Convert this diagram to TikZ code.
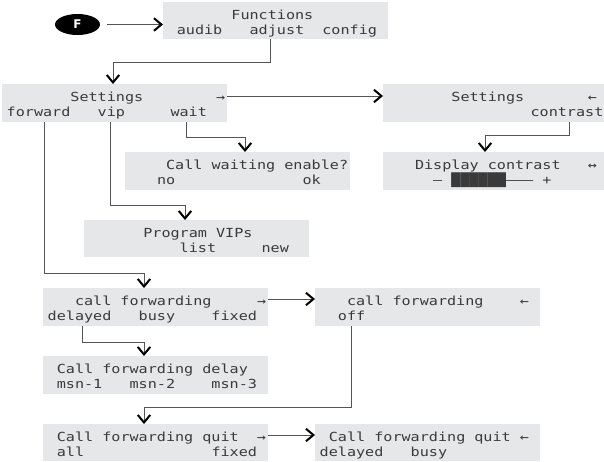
\documentclass[tikz,border=0pt]{standalone}
\usepackage{fontspec}
\usetikzlibrary{arrows.meta,calc,shapes.geometric}
\newfontfamily\lcdfont[FakeStretch=1.21]{DejaVu Sans Mono}
\newfontfamily\ffont{DejaVu Sans}
\definecolor{lcdbg}{HTML}{E6E7E8}
\definecolor{lcdtext}{HTML}{3A3A3A}
\definecolor{conngray}{HTML}{555555}
\newlength\cw \setlength\cw{9.1pt}
\newcommand\cc[2]{\makebox[0pt][l]{\hspace*{#1\cw}#2}}
\newcommand\lcdline[1]{\hbox to 24\cw{#1\hss}}
\tikzset{
  panel/.style={fill=lcdbg, draw=none, rectangle, minimum width=225pt, inner sep=0pt, anchor=north west},
  lcdtxt/.style={anchor=base west, inner sep=0pt, text=lcdtext, font=\lcdfont\fontsize{12.5pt}{12.5pt}\selectfont},
  conn/.style={draw=conngray, line width=0.9pt, -{Straight Barb[color=black, line width=2pt, length=7.5pt, width=12.5pt]}},
  fmark/.style={ellipse, fill=black, minimum width=45pt, minimum height=21pt, inner sep=0pt, text=white, font=\ffont\bfseries\fontsize{12pt}{12pt}\selectfont}
}
\newcommand\lcdbox[6]{%
  \node[panel, minimum height=#4pt] (#1) at (#2,#3) {};
  \node[lcdtxt] (#1-a) at ($(#1.north west)+(4.5,17)$) {\lcdline{#5}};
  \node[lcdtxt] (#1-b) at ($(#1.north west)+(4.5,32)$) {\lcdline{#6}};
}
\begin{document}
\begin{tikzpicture}[x=1pt,y=-1pt]
\useasboundingbox (0,0) rectangle (604,461);
\node[fmark] (F) at (77.5,24.5) {F};
\lcdbox{fun}{163}{2}{37}{\cc{7}{Functions}}{\cc{1}{audib}\cc{9}{adjust}\cc{17}{config}}
\lcdbox{setL}{2}{84}{38}{\cc{7}{Settings}\cc{23}{→}}{\cc{0}{forward}\cc{10}{vip}\cc{18}{wait}}
\lcdbox{setR}{383}{84}{38}{\cc{7}{Settings}\cc{22}{←}}{\cc{15.7}{contrast}}
\lcdbox{cwait}{125}{152}{38}{\cc{4}{Call}\cc{9}{waiting}\cc{17}{enable?}}{\cc{3}{no}\cc{19}{ok}}
\lcdbox{disp}{383}{152}{38}{\cc{3}{Display}\cc{11}{contrast}\cc{22}{↔}}{\cc{5}{–}\cc{7}{██████}\cc{13}{–}\cc{14}{–}\cc{15}{–}\cc{17}{+}}
\lcdbox{vip}{84}{220}{37}{\cc{6}{Program}\cc{14}{VIPs}}{\cc{10}{list}\cc{19}{new}}
\lcdbox{cfL}{43}{288}{38}{\cc{3}{call}\cc{8}{forwarding}\cc{23}{→}}{\cc{0}{delayed}\cc{10}{busy}\cc{18}{fixed}}
\lcdbox{cfR}{315}{288}{38}{\cc{3}{call}\cc{8}{forwarding}\cc{22}{←}}{\cc{2}{off}}
\lcdbox{cfd}{43}{356}{38}{\cc{1}{Call}\cc{6}{forwarding}\cc{17}{delay}}{\cc{1}{msn-1}\cc{9}{msn-2}\cc{18}{msn-3}}
\lcdbox{cqL}{43}{424}{37}{\cc{1}{Call}\cc{6}{forwarding}\cc{17}{quit}\cc{23}{→}}{\cc{1}{all}\cc{18}{fixed}}
\lcdbox{cqR}{315}{424}{37}{\cc{1}{Call}\cc{6}{forwarding}\cc{17}{quit}\cc{22}{←}}{\cc{0}{delayed}\cc{10}{busy}}
% connectors
\draw[conn, shorten <=7pt] (F.east) -- (F.east -| fun.west);
\draw[conn] ($(fun.south west)+(107,0)$) -- ++(0,23) -| ($(setL.north west)+(111,0)$);
\draw[conn] ($(setL.north east)+(0,12)$) -- ($(setR.north west)+(0,12)$);
\draw[conn] ($(setR.south west)+(186,0)$) -- ++(0,13) -| ($(disp.north west)+(102,0)$);
\draw[conn] ($(setL.south west)+(184,0)$) -- ++(0,15) -| ($(cwait.north west)+(120,0)$);
\draw[conn] ($(setL.south west)+(108,0)$) -- ++(0,83) -| ($(vip.north west)+(101,0)$);
\draw[conn] ($(setL.south west)+(42,0)$) -- ++(0,151) -| ($(cfL.north west)+(101,0)$);
\draw[conn] ($(cfL.north east)+(0,11)$) -- ($(cfR.north west)+(0,11)$);
\draw[conn] ($(cfL.south west)+(39,0)$) -- ++(0,16) -| ($(cfd.north west)+(101,0)$);
\draw[conn] ($(cfR.south west)+(36,0)$) -- ++(0,81) -| ($(cqL.north west)+(101,0)$);
\draw[conn] ($(cqL.north east)+(0,11)$) -- ($(cqR.north west)+(0,11)$);
\end{tikzpicture}
\end{document}
